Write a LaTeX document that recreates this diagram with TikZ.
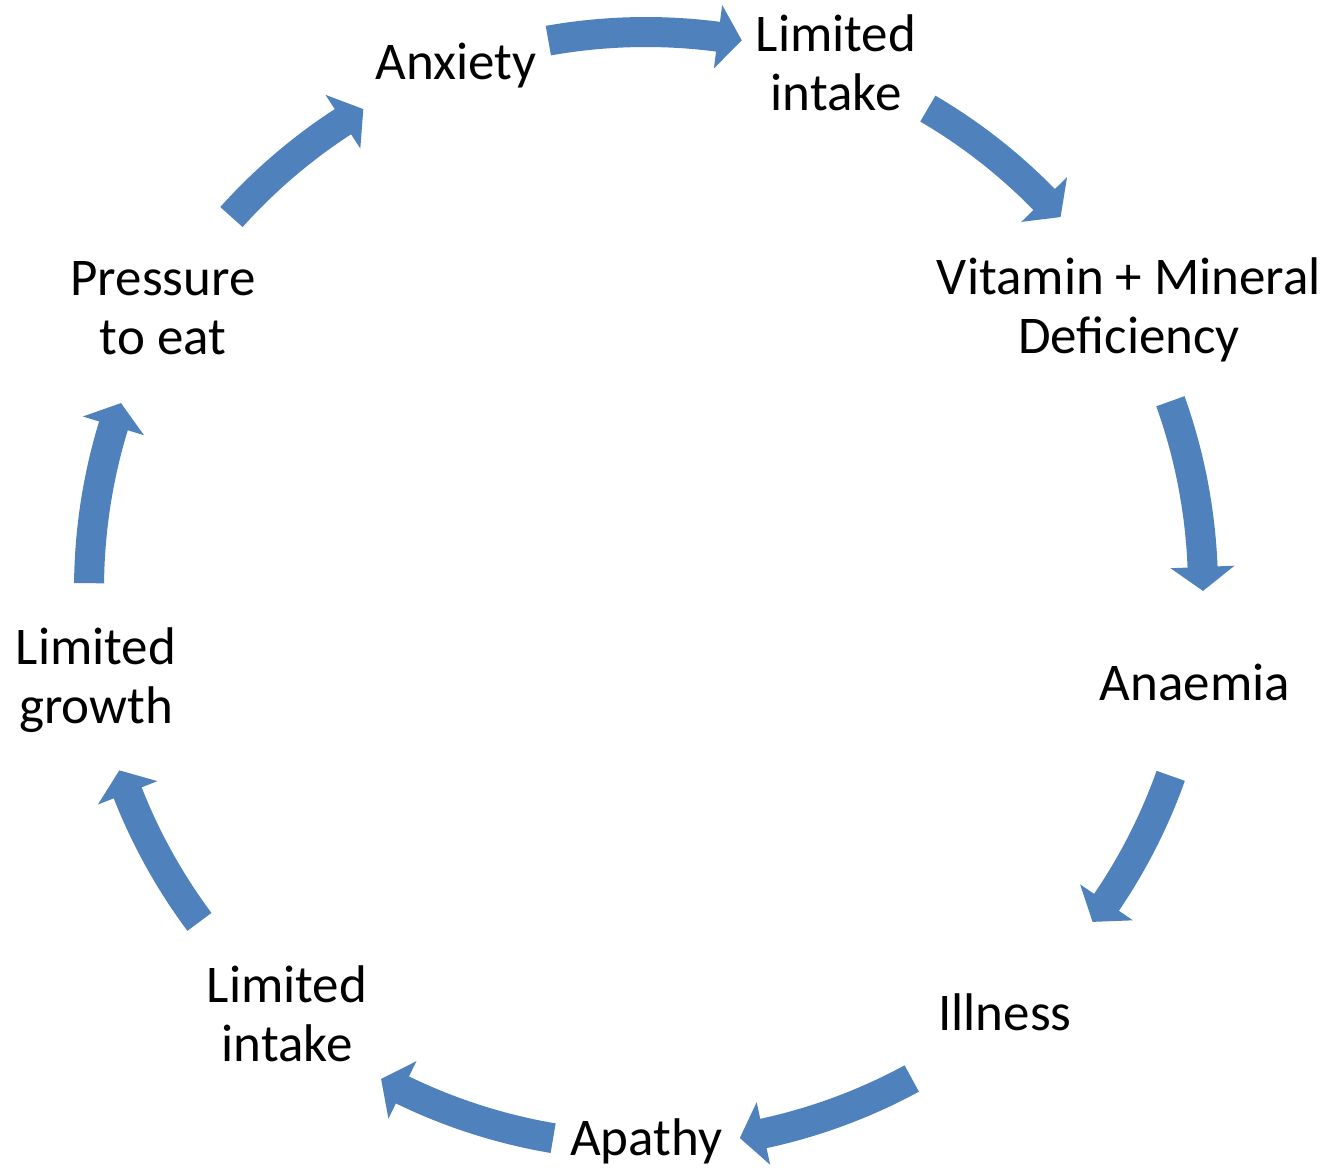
\documentclass[tikz,border=0pt]{standalone}
\usepackage{fontspec}
\setmainfont{Carlito}
\definecolor{arrowblue}{HTML}{4F81BD}
\tikzset{
  lbl/.style={anchor=base, inner sep=0pt, font=\fontsize{53}{59}\selectfont},
  cyclearrow/.style={fill=arrowblue, draw=none},
}
% block arrow along the cycle circle: #1 tail angle, #2 tip angle (screen angles, clockwise)
\newcommand\cyclearc[2]{%
  \pgfmathsetmacro\hb{#2-24/557*180/pi}%
  \fill[cyclearrow] (#1:572pt) arc[start angle=#1, end angle=\hb, radius=572pt]
    -- (\hb:589pt) -- (#2:557pt) -- (\hb:525pt) -- (\hb:542pt)
    arc[start angle=\hb, end angle=#1, radius=542pt] -- cycle;}
\newcommand\twolines[2]{\begin{tabular}[t]{@{}c@{}}#1\\#2\end{tabular}}
\begin{document}
\begin{tikzpicture}[x=1pt, y=1pt, yscale=-1]
\useasboundingbox (0,0) rectangle (1329,1169);
% labels
\node[lbl] (anx)   at (456,80)   {Anxiety};
\node[lbl] (lit)   at (836,52)   {\twolines{Limited}{intake}};
\node[lbl] (vit)   at (1129,294) {\twolines{Vitamin + Mineral}{Deficiency}};
\node[lbl] (ana)   at (1195,700) {Anaemia};
\node[lbl] (ill)   at (1005,1030){Illness};
\node[lbl] (apa)   at (646,1155) {Apathy};
\node[lbl] (lib)   at (287,1002) {\twolines{Limited}{intake}};
\node[lbl] (grow)  at (96,664)   {\twolines{Limited}{growth}};
\node[lbl] (press) at (163,295)  {\twolines{Pressure}{to eat}};
% cycle arrows
\begin{scope}[shift={(646,589)}]
\coordinate (cyclecentre) at (0,0);
\cyclearc{-100.1}{-80.1}  % anx -> lit
\cyclearc{-59.6}{-41.9}   % lit -> vit
\cyclearc{-19.7}{0.2}     % vit -> ana
\cyclearc{19.6}{36.7}     % ana -> ill
\cyclearc{61.5}{80.3}     % ill -> apa
\cyclearc{99.6}{118.4}    % apa -> lib
\cyclearc{143.3}{161.0}   % lib -> grow
\cyclearc{180.6}{199.5}   % grow -> press
\cyclearc{221.9}{239.5}   % press -> anx
\end{scope}
\end{tikzpicture}
\end{document}
